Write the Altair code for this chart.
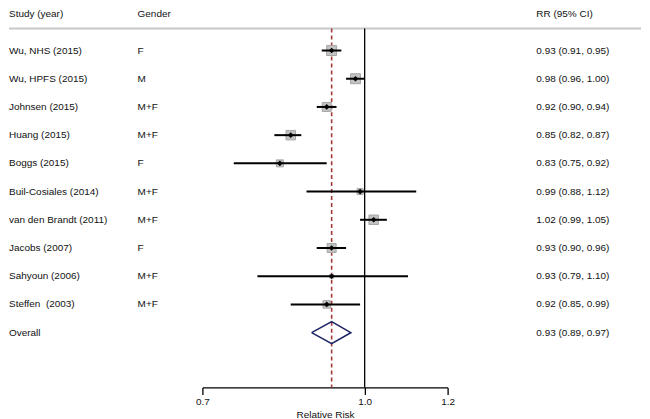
import altair as alt
import pandas as pd

studies = ["Wu, NHS (2015)", "Wu, HPFS (2015)", "Johnsen (2015)", "Huang (2015)",
           "Boggs (2015)", "Buil-Cosiales (2014)", "van den Brandt (2011)",
           "Jacobs (2007)", "Sahyoun (2006)", "Steffen\u00a0 (2003)"]
genders = ["F", "M", "M+F", "M+F", "F", "M+F", "M+F", "F", "M+F", "M+F"]
rr = [0.93, 0.98, 0.92, 0.85, 0.83, 0.99, 1.02, 0.93, 0.93, 0.92]
lo = [0.91, 0.96, 0.90, 0.82, 0.75, 0.88, 0.99, 0.90, 0.79, 0.85]
hi = [0.95, 1.00, 0.94, 0.87, 0.92, 1.12, 1.05, 0.96, 1.10, 0.99]
weights = [14.3, 14.3, 11.6, 12.9, 7.0, 5.2, 12.9, 11.6, 2.3, 8.0]
overall_label = "Overall"
overall_rr, overall_lo, overall_hi = 0.93, 0.89, 0.97
headers = ["Study (year)", "Gender", "RR (95% CI)"]
x_ticks = [0.7, 1.0, 1.2]
x_title = "Relative Risk"

FONT = "Liberation Sans"
W, H = 634, 380
TXT = "#111111"

rows = list(range(1, len(studies) + 1))
df = pd.DataFrame({"study": studies, "gender": genders, "rr": rr, "lo": lo, "hi": hi,
                   "w": weights, "row": rows})
df["label"] = [f"{r:.2f} ({l:.2f}, {h:.2f})" for r, l, h in zip(rr, lo, hi)]

orow = len(studies) + 1
odf = pd.DataFrame({"study": [overall_label], "gender": [""], "row": [orow],
                    "label": [f"{overall_rr:.2f} ({overall_lo:.2f}, {overall_hi:.2f})"]})
textdf = pd.concat([df[["study", "gender", "row", "label"]], odf], ignore_index=True)

dia = pd.DataFrame({
    "x": [overall_lo, overall_rr, overall_hi, overall_rr, overall_lo],
    "y": [orow, orow - 0.39, orow, orow + 0.39, orow],
    "o": [0, 1, 2, 3, 4],
})

xscale = alt.Scale(type="log", domain=[0.7, 1.2], range=[194, 440], nice=False)
yscale = alt.Scale(domain=[1, 11], range=[42, 325])

xaxis = alt.Axis(values=x_ticks, format=".1f", title=x_title, grid=False, tickSize=7,
                 labelPadding=2, titlePadding=3, labelFontSize=10, titleFontSize=10,
                 titleFontWeight="normal", domainColor="black", tickColor="black",
                 labelColor=TXT, titleColor=TXT, labelFont=FONT, titleFont=FONT,
                 domainWidth=1.3, tickWidth=1.3, labelFlush=False)

base = alt.Chart(df)

hdr = pd.DataFrame({"t": headers, "xp": [0, 129, 529]})
header_text = alt.Chart(hdr).mark_text(align="left", baseline="top", font=FONT,
                                       fontSize=10, color=TXT).encode(
    x=alt.X("xp:Q", scale=None), y=alt.value(0), text="t:N")

header_line = alt.Chart(hdr.head(1)).mark_rule(color="#c8c8c8", strokeWidth=2).encode(
    x=alt.value(0), x2=alt.value(W), y=alt.value(20))

ref1 = alt.Chart(pd.DataFrame({"v": [1.0]})).mark_rule(color="black", strokeWidth=1.3).encode(
    x=alt.X("v:Q", scale=xscale, axis=xaxis), y=alt.value(20), y2=alt.value(H))

ref_overall = alt.Chart(pd.DataFrame({"v": [overall_rr]})).mark_rule(
    color="#a33a3a", strokeWidth=1.6, strokeDash=[4, 3]).encode(
    x="v:Q", y=alt.value(20), y2=alt.value(H))

squares = base.mark_square(fill="#c2c2c2", stroke="#a6a6a6", strokeWidth=1, opacity=1).encode(
    x="rr:Q", y=alt.Y("row:Q", scale=yscale, axis=None),
    size=alt.Size("w:Q", scale=alt.Scale(domain=[0, 15], range=[0, 105]), legend=None))

ci = base.mark_rule(color="black", strokeWidth=2).encode(
    x="lo:Q", x2="hi:Q", y="row:Q")

pts = base.mark_point(shape="diamond", filled=True, color="black", size=32, opacity=1).encode(
    x="rr:Q", y="row:Q")

diamond = alt.Chart(dia).mark_line(color="#1c2466", strokeWidth=1.6).encode(
    x="x:Q", y="y:Q", order="o:Q")

tbase = alt.Chart(textdf).mark_text(align="left", baseline="middle", font=FONT,
                                    fontSize=10, color=TXT)
t_study = tbase.encode(x=alt.value(0), y="row:Q", text="study:N")
t_gender = tbase.encode(x=alt.value(129), y="row:Q", text="gender:N")
t_rr = tbase.encode(x=alt.value(529), y="row:Q", text="label:N")

chart = alt.layer(
    header_line, header_text, ref1, ref_overall, squares, ci, pts, diamond,
    t_study, t_gender, t_rr
).properties(width=W, height=H, padding=0).configure_view(stroke=None)

chart.save("out.html", embed_options={"renderer": "svg", "actions": False})
